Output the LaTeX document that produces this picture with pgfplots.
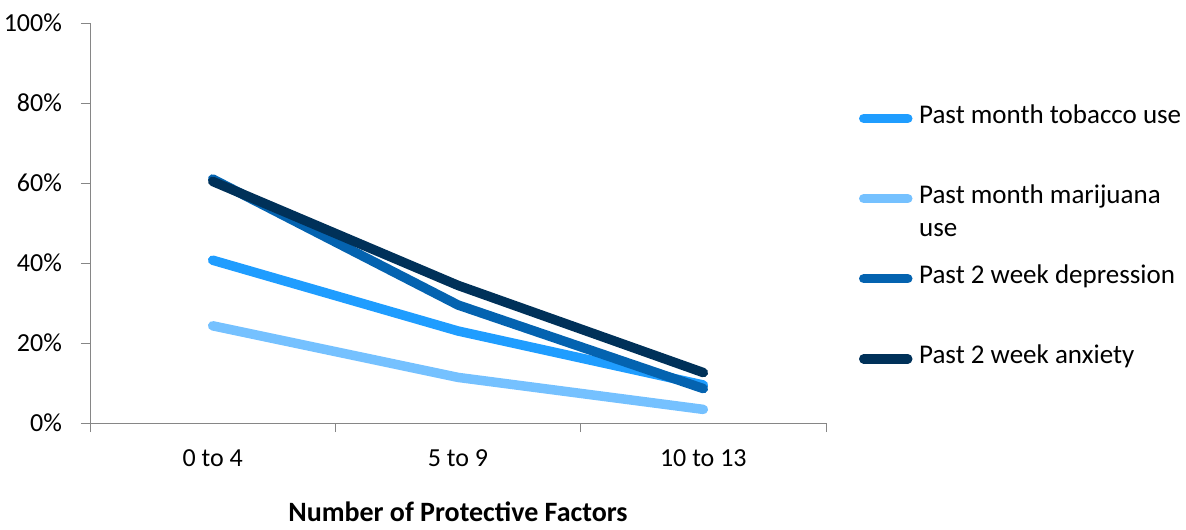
\documentclass[border=0pt]{standalone}
\usepackage{fontspec}
\setmainfont{Carlito}
\usepackage{pgfplots}
\pgfplotsset{compat=1.18}

\definecolor{tobacco}{RGB}{31,157,255}
\definecolor{marijuana}{RGB}{117,193,255}
\definecolor{depression}{RGB}{4,99,176}
\definecolor{anxiety}{RGB}{0,49,89}
\definecolor{axisgray}{RGB}{134,134,134}

\begin{document}
\fontsize{13}{16}\selectfont
\begin{tikzpicture}
\useasboundingbox (-45pt,-53pt) rectangle (548pt,211.5pt);
\begin{axis}[
  at={(0,0)}, anchor=south west,
  scale only axis, width=368pt, height=200pt,
  xmin=-0.5, xmax=2.5, ymin=0, ymax=100,
  axis x line*=bottom, axis y line*=left,
  x axis line style={-, axisgray},
  y axis line style={-, axisgray},
  major tick length=4.5pt,
  tick align=outside,
  tick style={axisgray},
  tick label style={font=\fontsize{13}{16}\selectfont},
  ytick={0,20,40,60,80,100},
  yticklabel={\pgfmathprintnumber{\tick}\%},
  yticklabel style={xshift=-5pt},
  % category boundaries carry the tick marks
  xtick={-0.5,0.5,1.5,2.5},
  xticklabels={},
  % category names sit between them
  extra x ticks={0,1,2},
  extra x tick labels={0 to 4, 5 to 9, 10 to 13},
  extra x tick style={major tick length=0pt, grid=none,
    xticklabel style={yshift=-9pt}},
  /pgf/number format/assume math mode=true,
  xlabel={\bfseries Number of Protective Factors},
  xlabel style={font=\fontsize{14}{17}\selectfont, inner sep=0pt,
    at={(axis description cs:0.5,0)}, anchor=center, yshift=-44.5pt},
  every axis plot/.append style={line width=4.75pt, line cap=round, line join=round},
  legend image code/.code={\draw[#1] (0pt,0pt) -- (22pt,0pt);},
  legend cell align=left,
  legend style={
    draw=none, fill=none, inner sep=0pt,
    at={(1.0443,0.8625)}, anchor=north west,
    column sep=0pt,
    font=\fontsize{13.5}{16.5}\selectfont,
    nodes={text height=19.2pt, text depth=14.2pt, inner sep=3.33pt},
  },
]
% share of students by number of protective factors
\addplot[tobacco] coordinates {(0,40.7) (1,23.0) (2,9.5)};
\addlegendentry{Past month tobacco use}
\addplot[marijuana] coordinates {(0,24.3) (1,11.4) (2,3.4)};
\addlegendentry{\parbox[t]{4.5cm}{Past month marijuana\\use}}
\addplot[depression] coordinates {(0,61.0) (1,29.5) (2,8.6)};
\addlegendentry{Past 2 week depression}
\addplot[anxiety] coordinates {(0,60.4) (1,34.4) (2,12.6)};
\addlegendentry{Past 2 week anxiety}
\end{axis}
\end{tikzpicture}
\end{document}
